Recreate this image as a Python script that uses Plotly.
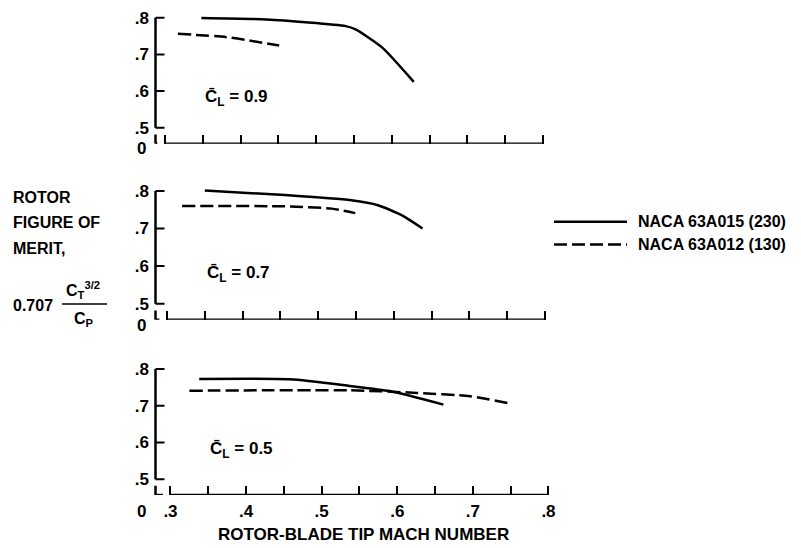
import plotly.graph_objects as go
from plotly.subplots import make_subplots

# Section lift coefficient for each panel (top to bottom)
panel_cl = ["0.9", "0.7", "0.5"]

# NACA 63A015 (230) rotor: tip Mach number and figure of merit per panel
a015_mach = [
    [0.348, 0.434, 0.539, 0.552, 0.587, 0.629],
    [0.350, 0.456, 0.544, 0.579, 0.611, 0.638],
    [0.338, 0.458, 0.537, 0.590, 0.661],
]
a015_fm = [
    [0.799, 0.795, 0.777, 0.768, 0.719, 0.625],
    [0.801, 0.789, 0.775, 0.762, 0.735, 0.700],
    [0.773, 0.772, 0.754, 0.740, 0.703],
]

# NACA 63A012 (130) rotor
a012_mach = [
    [0.317, 0.381, 0.451],
    [0.320, 0.456, 0.518, 0.549],
    [0.325, 0.537, 0.626, 0.696, 0.749],
]
a012_fm = [
    [0.756, 0.747, 0.724],
    [0.760, 0.759, 0.753, 0.741],
    [0.741, 0.742, 0.735, 0.726, 0.706],
]

x_tickvals = [0.30, 0.35, 0.40, 0.45, 0.50, 0.55, 0.60, 0.65, 0.70, 0.75, 0.80]
x_ticktext = [".3", "", ".4", "", ".5", "", ".6", "", ".7", "", ".8"]
y_tickvals = [0.5, 0.6, 0.7, 0.8]
y_ticktext = [".5", ".6", ".7", ".8"]

FONT = "Liberation Sans, Arial, sans-serif"
BLACK = "black"
LW = 2.5

W, H = 801, 548
ML, MR, MT, MB = 154, 249, 9, 53
PW = W - ML - MR
PH = H - MT - MB
PX_PER_UNIT = 756.0  # pixels per unit of Mach number

# per-panel x window (same scale, small horizontal offsets between panels)
X_SPAN = PW / PX_PER_UNIT
x_left = [0.2854, 0.2828, 0.2782]
Y_RANGE = [0.457, 0.81]
Y_BASE = Y_RANGE[0]
domains = [[0.7305, 1.0], [0.3642, 0.6399], [0.0, 0.2695]]
zero_label_px = [145, 324, 512]


def px(p):
    return (p - ML) / PW


def py(p):
    return (H - MB - p) / PH


fig = make_subplots(rows=3, cols=1)

for i in range(3):
    r = i + 1
    fig.add_trace(go.Scatter(
        x=a015_mach[i], y=a015_fm[i], mode="lines",
        line=dict(color=BLACK, width=LW, shape="spline", smoothing=0.6),
        showlegend=False, hoverinfo="skip"), row=r, col=1)
    fig.add_trace(go.Scatter(
        x=a012_mach[i], y=a012_fm[i], mode="lines",
        line=dict(color=BLACK, width=LW, dash="13px,5px", shape="spline", smoothing=0.6),
        showlegend=False, hoverinfo="skip"), row=r, col=1)

    sfx = "" if r == 1 else str(r)
    xr, yr = "x" + sfx, "y" + sfx
    xrange = [x_left[i], x_left[i] + X_SPAN]
    fig.update_layout(**{
        "xaxis" + sfx: dict(
            range=xrange, showgrid=False, zeroline=False, showline=False,
            tickvals=x_tickvals, ticktext=x_ticktext, ticks="inside",
            ticklen=9, tickwidth=2, tickcolor=BLACK,
            showticklabels=(r == 3), ticklabelstandoff=4,
            tickfont=dict(family=FONT, size=17, color=BLACK, weight="bold")),
        "yaxis" + sfx: dict(
            range=Y_RANGE, domain=domains[i], showgrid=False, zeroline=False,
            showline=False, tickvals=y_tickvals, ticktext=y_ticktext,
            ticks="", ticklabelstandoff=4,
            tickfont=dict(family=FONT, size=17, color=BLACK, weight="bold")),
    })

    # y axis: line from .5 to .8 with tick stubs pointing into the plot
    x_ax = xrange[0] + 1.5 / PX_PER_UNIT
    x_tick_end = x_ax + 9 / PX_PER_UNIT
    fig.add_shape(type="line", xref=xr, yref=yr, x0=x_ax, x1=x_ax, y0=0.5, y1=0.8,
                  line=dict(color=BLACK, width=LW))
    for tv in y_tickvals:
        fig.add_shape(type="line", xref=xr, yref=yr, x0=x_ax, x1=x_tick_end, y0=tv, y1=tv,
                      line=dict(color=BLACK, width=2))
    # short "L" at the axis break near the origin
    fig.add_shape(type="line", xref=xr, yref=yr, x0=x_ax, x1=x_ax, y0=0.482, y1=Y_BASE,
                  line=dict(color=BLACK, width=LW))
    fig.add_shape(type="line", xref=xr, yref=yr, x0=x_ax, x1=0.29, y0=Y_BASE, y1=Y_BASE,
                  line=dict(color=BLACK, width=LW))
    # x axis line from .3 to .8
    fig.add_shape(type="line", xref=xr, yref=yr, x0=0.3, x1=0.8, y0=Y_BASE, y1=Y_BASE,
                  line=dict(color=BLACK, width=LW))

    # panel label
    fig.add_annotation(xref=xr, yref=yr, x=0.350, y=0.58, xanchor="left", yanchor="middle",
                       text="C\u0304<sub>L</sub> = " + panel_cl[i], showarrow=False,
                       font=dict(family=FONT, size=17, color=BLACK, weight="bold"))

    # "0" label at the broken axis
    fig.add_annotation(xref="paper", yref="paper", x=px(148), y=py(zero_label_px[i]),
                       xanchor="right", yanchor="middle", text="0", showarrow=False,
                       font=dict(family=FONT, size=17, color=BLACK, weight="bold"))

# x axis title
fig.add_annotation(xref="paper", yref="paper", x=px(363), y=py(535), xanchor="center",
                   yanchor="middle", text="ROTOR-BLADE TIP MACH NUMBER", showarrow=False,
                   font=dict(family=FONT, size=17, color=BLACK, weight="bold"))

# y axis title block
for text, yp in [("ROTOR", 194), ("FIGURE OF", 220), ("MERIT,", 246)]:
    fig.add_annotation(xref="paper", yref="paper", x=px(11), y=py(yp), xanchor="left",
                       yanchor="middle", text=text, showarrow=False,
                       font=dict(family=FONT, size=16, color=BLACK, weight="bold"))
fig.add_annotation(xref="paper", yref="paper", x=px(11), y=py(304), xanchor="left",
                   yanchor="middle", text="0.707", showarrow=False,
                   font=dict(family=FONT, size=16, color=BLACK, weight="bold"))
fig.add_annotation(xref="paper", yref="paper", x=px(83), y=py(288), xanchor="center",
                   yanchor="middle", text="C<sub>T</sub><sup>3/2</sup>", showarrow=False,
                   font=dict(family=FONT, size=16, color=BLACK, weight="bold"))
fig.add_annotation(xref="paper", yref="paper", x=px(84), y=py(318), xanchor="center",
                   yanchor="middle", text="C<sub>P</sub>", showarrow=False,
                   font=dict(family=FONT, size=16, color=BLACK, weight="bold"))
fig.add_shape(type="line", xref="paper", yref="paper", x0=px(62), x1=px(107),
              y0=py(302), y1=py(302), line=dict(color=BLACK, width=1.5))

# legend
legend_items = ["NACA 63A015 (230)", "NACA 63A012 (130)"]
legend_dash = ["solid", "13px,5px"]
for k, (name, dash) in enumerate(zip(legend_items, legend_dash)):
    yy = 219 + 23 * k
    fig.add_shape(type="line", xref="paper", yref="paper", x0=px(554), x1=px(627),
                  y0=py(yy), y1=py(yy), line=dict(color=BLACK, width=LW, dash=dash))
    fig.add_annotation(xref="paper", yref="paper", x=px(636), y=py(yy), xanchor="left",
                       yanchor="middle", text=name, showarrow=False,
                       font=dict(family=FONT, size=16, color=BLACK, weight="bold"))

fig.update_layout(
    width=W, height=H, margin=dict(l=ML, r=MR, t=MT, b=MB),
    plot_bgcolor="white", paper_bgcolor="white", showlegend=False,
)

fig.write_html("out.html")
